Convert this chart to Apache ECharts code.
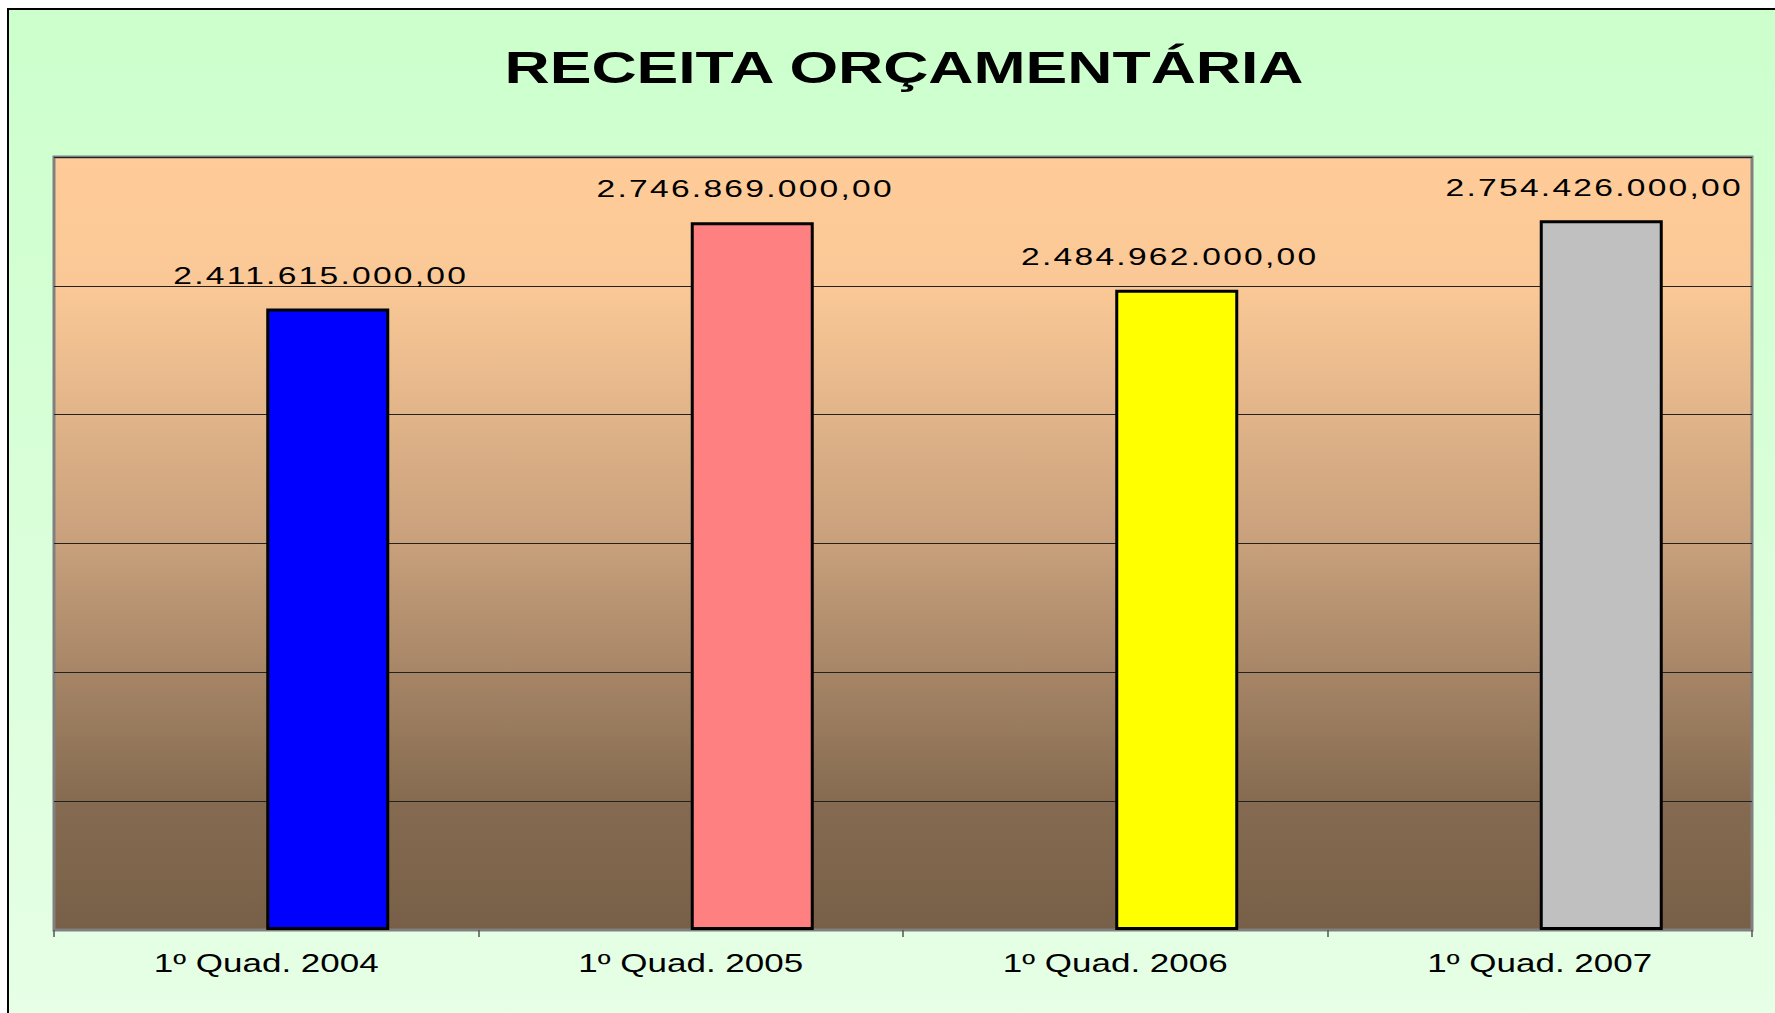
<!DOCTYPE html>
<html>
<head>
<meta charset="utf-8">
<script src="https://cdn.jsdelivr.net/npm/echarts@6/dist/echarts.min.js"></script>
<style>
  html, body { margin: 0; padding: 0; background: #ffffff; }
  #wrap { position: relative; width: 1775px; height: 1013px; overflow: hidden; background: #ffffff; }
  #frame { position: absolute; left: 7px; top: 8px; right: 0; bottom: 0;
           border-top: 2px solid #000; border-left: 2px solid #000;
           background: linear-gradient(to bottom, #ccffcc 0%, #e6ffe6 100%); }
  #chart { position: absolute; left: 0; top: 0; width: 1775px; height: 1013px; }
  #chart text[style*="24px"] { letter-spacing: 1.6px; }
</style>
</head>
<body>
<div id="wrap">
  <div id="frame"></div>
  <div id="chart"></div>
</div>
<script>
// ---- data ----
const titleText = 'RECEITA ORÇAMENTÁRIA';
const categories = ['1º Quad. 2004', '1º Quad. 2005', '1º Quad. 2006', '1º Quad. 2007'];
const receita = [2411615000, 2746869000, 2484962000, 2754426000];
const barColors = ['#0000ff', '#ff8080', '#ffff00', '#c0c0c0'];
const yMin = 0;
const yMax = 3000000000;
const yInterval = 500000000;

function formatBR(v) {
  const fixed = v.toFixed(2);
  const parts = fixed.split('.');
  const intPart = parts[0].replace(/\B(?=(\d{3})+(?!\d))/g, '.');
  return intPart + ',' + parts[1];
}

const chart = echarts.init(document.getElementById('chart'), null, { renderer: 'svg' });
const font = "'Liberation Sans', Arial, sans-serif";

chart.setOption({
  backgroundColor: 'transparent',
  animation: false,
  title: {
    text: titleText,
    left: 899,
    textAlign: 'center',
    top: 40,
    textStyle: { fontFamily: font, fontWeight: 'bold', fontSize: 45, color: '#000' }
  },
  grid: {
    left: 54, right: 23, top: 157, bottom: 83,
    show: true,
    borderColor: '#808080',
    borderWidth: 3,
    backgroundColor: new echarts.graphic.LinearGradient(0, 0, 0, 1, [
      { offset: 0, color: '#ffcc99' },
      { offset: 0.17, color: '#fac896' },
      { offset: 0.5, color: '#c8a07c' },
      { offset: 0.84, color: '#846a50' },
      { offset: 1, color: '#786048' }
    ])
  },
  xAxis: {
    type: 'category',
    data: categories,
    axisLine: { show: true, lineStyle: { color: '#808080', width: 2 } },
    axisTick: { show: true, length: 7, lineStyle: { color: '#555', width: 1.5 } },
    axisLabel: { margin: 20, color: '#000', fontSize: 25, fontFamily: font }
  },
  yAxis: {
    type: 'value',
    min: yMin, max: yMax, interval: yInterval,
    axisLine: { show: false },
    axisTick: { show: false },
    axisLabel: { show: false },
    splitLine: { show: true, lineStyle: { color: '#222', width: 1 } }
  },
  series: [
    {
      type: 'bar',
      name: 'vazio',
      data: categories.map(() => '-'),
      barWidth: 123,
      barGap: '0%',
      silent: true
    },
    {
      type: 'bar',
      name: 'Receita',
      data: receita.map((v, i) => ({ value: v, itemStyle: { color: barColors[i] } })),
      barWidth: 123,
      barGap: '0%',
      itemStyle: { borderColor: '#000', borderWidth: 3 },
      label: {
        show: true,
        position: 'top',
        distance: 21,
        offset: [-7, 0],
        color: '#000',
        fontSize: 24,
        fontFamily: font,
        formatter: p => formatBR(p.value)
      }
    }
  ]
});

// Horizontal stretch of the text glyphs (the original chart's text is drawn wide)
function stretchTexts() {
  const texts = document.querySelectorAll('#chart svg text');
  texts.forEach(t => {
    if (t.getAttribute('data-stretched')) return;
    const st = t.getAttribute('style') || '';
    let s = 1;
    if (st.indexOf('45px') >= 0) s = 1.39;
    else if (st.indexOf('24px') >= 0) s = 1.4;
    else if (st.indexOf('25px') >= 0) s = 1.4;
    if (s === 1) return;
    const bb = t.getBBox();
    const cx = bb.x + bb.width / 2;
    const prev = t.getAttribute('transform') || '';
    t.setAttribute('transform', (prev + ' translate(' + cx + ' 0) scale(' + s + ' 1) translate(' + (-cx) + ' 0)').trim());
    t.setAttribute('data-stretched', '1');
  });
}
chart.on('finished', stretchTexts);
setTimeout(stretchTexts, 50);
setTimeout(stretchTexts, 300);
</script>
</body>
</html>
